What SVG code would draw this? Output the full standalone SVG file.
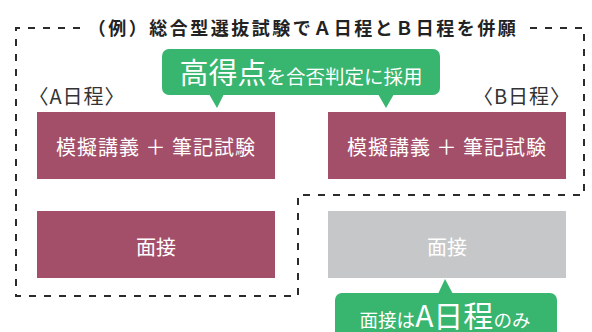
<svg xmlns="http://www.w3.org/2000/svg" width="592" height="332" viewBox="0 0 592 332">
<style>
text{font-family:"Noto Sans CJK JP","Noto Sans",sans-serif}
.box{fill:#a44f69}
.gray{fill:#c6c7c9}
.lbl{fill:#fff;font-size:20px;text-anchor:middle}
.call{fill:#38b56f}
.ct{fill:#fff;text-anchor:middle}
.dash{fill:none;stroke:#2b2b2b;stroke-width:2;stroke-dasharray:7 8}
.day{fill:#333;font-size:20px;text-anchor:middle;letter-spacing:1px}
</style>
<rect width="592" height="332" fill="#fff"/>
<g id="connectors">
<path class="dash" d="M80,28 H16 V296 H298 V195 H584 V28 H524"/>
</g>
<g id="title">
<text x="303" y="34.5" font-size="18" font-weight="bold" fill="#222" text-anchor="middle" letter-spacing="2.5">（例）総合型選抜試験でＡ日程とＢ日程を併願</text>
</g>
<g id="label-a"><text class="day" x="77" y="104">〈A日程〉</text></g>
<g id="label-b"><text class="day" x="522" y="104">〈B日程〉</text></g>
<g id="a-exam">
<rect class="box" x="37" y="112" width="238" height="67"/>
<text class="lbl" x="156" y="155" letter-spacing="1">模擬講義 ＋ 筆記試験</text>
</g>
<g id="b-exam">
<rect class="box" x="328" y="112" width="238" height="67"/>
<text class="lbl" x="447" y="155" letter-spacing="1">模擬講義 ＋ 筆記試験</text>
</g>
<g id="a-interview">
<rect class="box" x="37" y="211" width="238" height="67"/>
<text class="lbl" x="156" y="255" font-size="21">面接</text>
</g>
<g id="b-interview">
<rect class="gray" x="328" y="211" width="238" height="67"/>
<text class="lbl" x="447" y="255" font-size="21" fill="#f7f7f7">面接</text>
</g>
<g id="callout-top">
<rect class="call" x="162" y="49" width="278" height="46" rx="7"/>
<path class="call" d="M209,94 L224,94 L217,108 Z M378,94 L394,94 L386,108 Z"/>
<text class="ct" x="301" y="84"><tspan font-size="29">高得点</tspan><tspan font-size="19.5">を合否判定に採用</tspan></text>
</g>
<g id="callout-bottom">
<rect class="call" x="335" y="293" width="222" height="50" rx="7"/>
<path class="call" d="M438,294 L453,294 L445,279 Z"/>
<text class="ct" x="445" y="326.5"><tspan font-size="18.5">面接は</tspan><tspan font-size="30">A日程</tspan><tspan font-size="18.5">のみ</tspan></text>
</g>
</svg>
